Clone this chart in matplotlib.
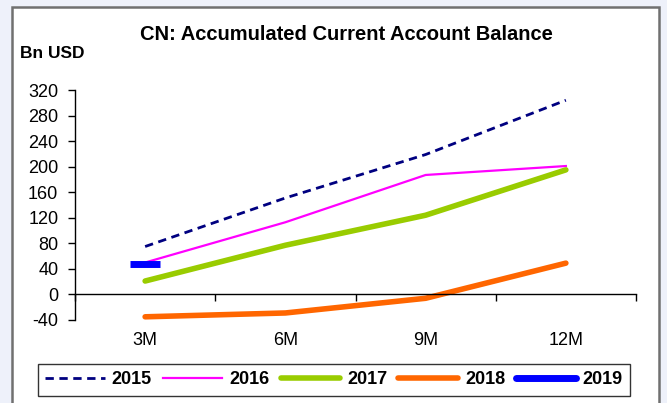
import matplotlib.pyplot as plt
from matplotlib.patches import Rectangle
from matplotlib.lines import Line2D

plt.rcParams['font.family'] = ['Liberation Sans', 'DejaVu Sans']
plt.rcParams['axes.unicode_minus'] = False

months = ['3M', '6M', '9M', '12M']
x = [1, 2, 3, 4]

y2015 = [75, 151, 219, 304]
y2016 = [50, 113, 187, 201]
y2017 = [21, 77, 124, 195]
y2018 = [-35, -29, -6, 49]
y2019 = [48]

fig = plt.figure(figsize=(6.67, 4.03), dpi=100, facecolor='#eef1fa')

# white panel with grey frame
fig.patches.append(Rectangle((12 / 667, -0.05), 647 / 667, 1.05 - 7 / 403,
                             transform=fig.transFigure, facecolor='white',
                             edgecolor='#707070', linewidth=1.8, zorder=-5))

ax = fig.add_axes([75 / 667, 1 - 320 / 403, 561 / 667, 230 / 403])
ax.set_facecolor('none')
ax.set_zorder(2)

ax.plot(x, y2015, color='#000080', lw=2, dashes=(3, 2), label='2015')
ax.plot(x, y2016, color='#ff00ff', lw=1.6, label='2016')
ax.plot(x, y2017, color='#99cc00', lw=4, solid_capstyle='round', label='2017')
ax.plot(x, y2018, color='#ff6600', lw=4, solid_capstyle='round', label='2018')
ax.plot(x[:1], y2019, color='#0000ff', marker='_', ms=21, mew=5, ls='none')

ax.set_xlim(0.5, 4.5)
ax.set_ylim(-40, 320)
ax.set_yticks(range(-40, 321, 40))
ax.tick_params(axis='y', direction='out', length=5, width=1, labelsize=13, pad=7)

for s in ['top', 'right']:
    ax.spines[s].set_visible(False)
ax.spines['left'].set_linewidth(1)
ax.spines['bottom'].set_position(('data', 0))
ax.spines['bottom'].set_linewidth(1)
ax.set_xticks([0.5, 1.5, 2.5, 3.5, 4.5])
ax.set_xticklabels([])
ax.tick_params(axis='x', direction='out', length=5, width=1)

tr = ax.get_xaxis_transform()
for xi, m in zip(x, months):
    ax.text(xi, -0.09, m, transform=tr, ha='center', va='center', fontsize=13)

fig.text(346 / 667, 1 - 34 / 403, 'CN: Accumulated Current Account Balance',
         ha='center', va='center', fontsize=14.5, fontweight='bold')
fig.text(20 / 667, 1 - 53 / 403, 'Bn USD', ha='left', va='center',
         fontsize=12.5, fontweight='bold')

handles = ax.get_lines()[:4] + [Line2D([], [], color='#0000ff', lw=5,
                                      solid_capstyle='round', label='2019')]
leg = fig.legend(handles=handles, ncol=5, loc='center',
                 bbox_to_anchor=(334 / 667, 1 - 380 / 403),
                 prop={'weight': 'bold', 'size': 13}, frameon=True,
                 fancybox=False, edgecolor='black', handlelength=3.3,
                 handletextpad=0.4, columnspacing=0.6, borderpad=0.4)
leg.get_frame().set_linewidth(1)

plt.savefig('out.png', dpi=100, facecolor=fig.get_facecolor())
